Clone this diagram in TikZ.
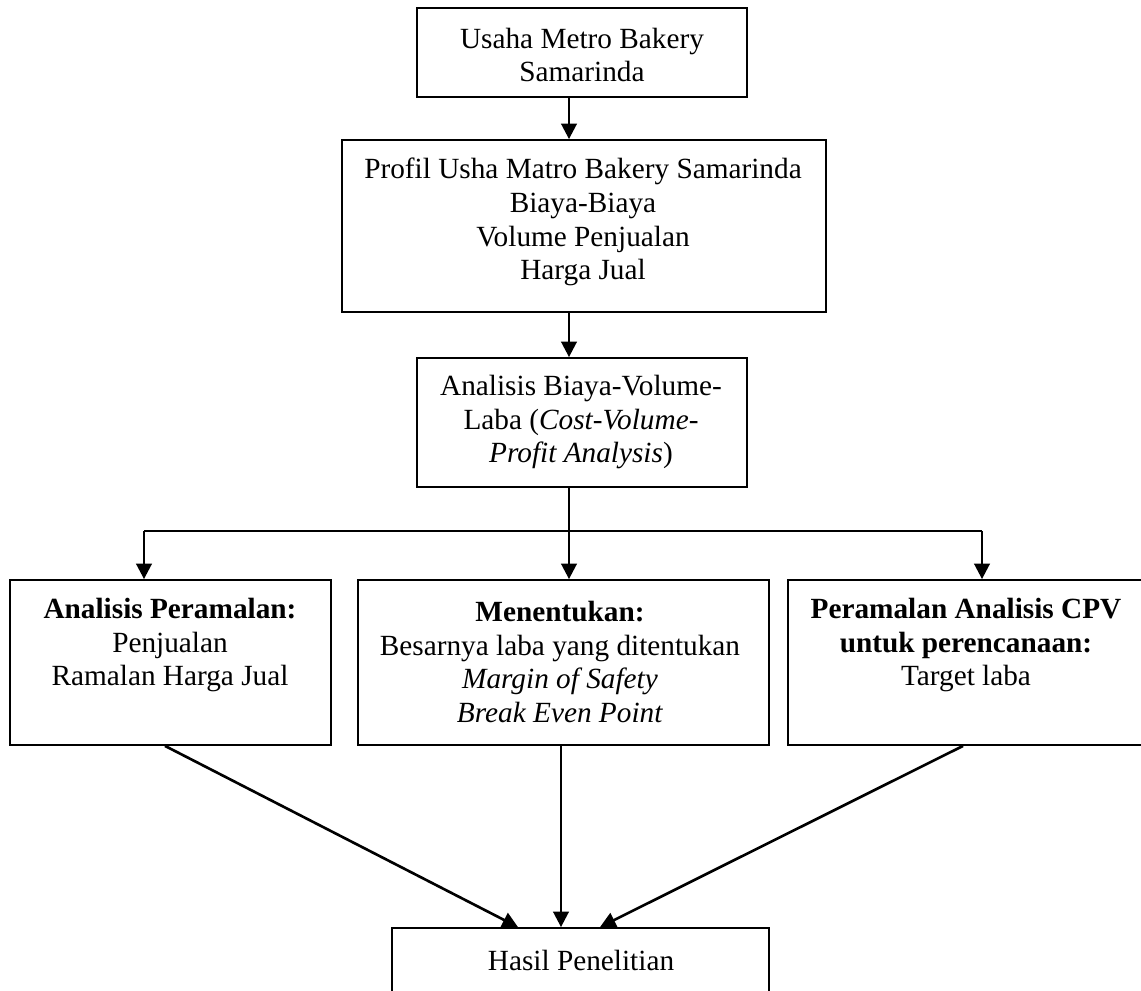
\documentclass[tikz,border=0pt]{standalone}
\usepackage{fontspec}
\setmainfont{Liberation Serif}
\usetikzlibrary{arrows.meta,fit}
\begin{document}
\begin{tikzpicture}[x=0.41667pt,y=-0.41667pt,
  box/.style={draw=black,line width=0.75pt,inner sep=0pt,rectangle},
  txt/.style={align=center,inner sep=0pt,font=\fontsize{12.2pt}{14.1pt}\selectfont},
  conn/.style={draw=black,line width=1.1pt},
  arr/.style={conn,-{Triangle[width=6.5pt,length=6.5pt]}}]
\useasboundingbox (0,0) rectangle (1141,991);
\clip (0,0) rectangle (1141,991);
% boxes
\node[box,fit={(417,8) (747,97)}] (top) {};
\node[box,fit={(342,140) (826,312)}] (prof) {};
\node[box,fit={(417,358) (747,487)}] (cvp) {};
\node[box,fit={(10,580) (331,745)}] (left) {};
\node[box,fit={(358,580) (769,745)}] (mid) {};
\node[box,fit={(788,580) (1144,745)}] (right) {};
\node[box,fit={(392,928) (769,1000)}] (hasil) {};
% texts
\node[txt] (ttop) at (582,55) {Usaha Metro Bakery\\Samarinda};
\node[txt] (tprof) at (583,222) {Profil Usha Matro Bakery Samarinda\\Biaya-Biaya\\Volume Penjualan\\Harga Jual};
\node[txt] (tcvp) at (581,422) {Analisis Biaya-Volume-\\Laba (\textit{Cost-Volume-}\\\textit{Profit Analysis})};
\node[txt] (tleft) at (170,645) {\textbf{Analisis Peramalan:}\\Penjualan\\Ramalan Harga Jual};
\node[txt] (tmid) at (560,662) {\textbf{Menentukan:}\\Besarnya laba yang ditentukan\\\textit{Margin of Safety}\\\textit{Break Even Point}};
\node[txt] (tright) at (966,645) {\textbf{Peramalan Analisis CPV}\\\textbf{untuk perencanaan:}\\Target laba};
\node[txt] (thasil) at (581,960) {Hasil Penelitian};
% connector coordinates
\coordinate (ax) at (569,0);
\coordinate (lx) at (144,531);
\coordinate (mx) at (569,531);
\coordinate (rx) at (982,531);
\coordinate (ls) at (165,0);
\coordinate (lt) at (518,0);
\coordinate (ms) at (561,0);
\coordinate (rs) at (963,0);
\coordinate (rt) at (600,0);
% connectors
\draw[arr] (top.south -| ax) -- (prof.north -| ax);
\draw[arr] (prof.south -| ax) -- (cvp.north -| ax);
\draw[conn] (cvp.south -| ax) -- (mx);
\draw[conn] (lx) -- (rx);
\draw[arr] (lx) -- (left.north -| lx);
\draw[arr] (mx) -- (mid.north -| mx);
\draw[arr] (rx) -- (right.north -| rx);
\draw[arr] (left.south -| ls) -- (hasil.north -| lt);
\draw[arr] (mid.south -| ms) -- (hasil.north -| ms);
\draw[arr] (right.south -| rs) -- (hasil.north -| rt);
\end{tikzpicture}
\end{document}
